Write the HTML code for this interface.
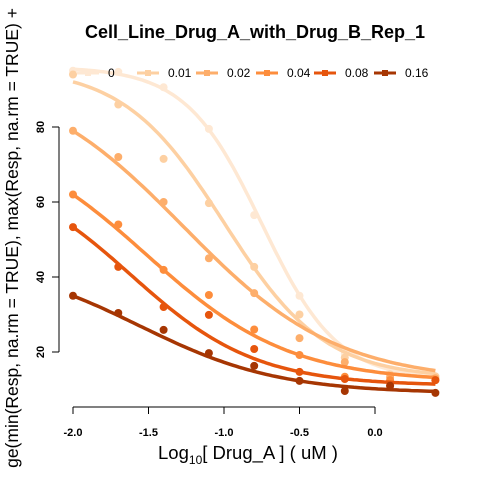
<!DOCTYPE html>
<html><head><meta charset="utf-8"><style>
body{margin:0;background:#fff}
svg{display:block;font-family:"Liberation Sans",sans-serif}
</style></head><body>
<svg id="c" width="480" height="480" viewBox="0 0 480 480">
<text x="255" y="38" text-anchor="middle" font-weight="bold" font-size="18">Cell_Line_Drug_A_with_Drug_B_Rep_1</text>
<text transform="translate(18,238) rotate(-90)" text-anchor="middle" font-size="17.5">ge(min(Resp, na.rm = TRUE), max(Resp, na.rm = TRUE) +</text>
<text x="248" y="459" text-anchor="middle" font-size="18.5">Log<tspan font-size="12" dy="5">10</tspan><tspan dy="-5">[ Drug_A ] ( uM )</tspan></text>
<g id="axes"></g><g id="series"></g><g id="legend"></g>
</svg>
<script>
const doses=["0","0.01","0.02","0.04","0.08","0.16"];
const colors=["#FEE8D3","#FDD0A2","#FDAE6B","#FD8D3C","#E6550D","#A63603"];
const xVals=[-2,-1.7,-1.4,-1.1,-0.8,-0.5,-0.2,0.1,0.4];
const resp0=[95,94.7,90.6,79.5,56.5,35,19.5,14.5,13.5];
const resp1=[94,86,71.5,59.7,42.7,30,18.5,14,13.5];
const resp2=[79,72,60,45,35.7,23.7,17.3,13.3,13];
const resp3=[62,54,41.9,35.2,26,19.2,13.4,12.5,12.5];
const resp4=[53.3,42.7,32,29.9,20.8,14.7,12.8,11,12.5];
const resp5=[35,30.4,25.9,19.7,16.3,12.3,9.6,11,9.1];
const tops=[96,96,95,80,70,45];
const bottoms=[12.5,13,12,12,11,9];
const ec50s=[-0.75,-1.0,-1.27,-1.515,-1.615,-1.56];
const hills=[1.72,1.3,0.85,0.913,1.05,0.94];
const xTicks=[-2,-1.5,-1,-0.5,0];
const xTickLabels=["-2.0","-1.5","-1.0","-0.5","0.0"];
const yTicks=[20,40,60,80];
const resp=[resp0,resp1,resp2,resp3,resp4,resp5];
const X=v=>73+(v+2)*151;
const Y=v=>427-3.75*v;
const NS="http://www.w3.org/2000/svg";
function mk(t,a,p){const e=document.createElementNS(NS,t);for(const k in a)e.setAttribute(k,a[k]);p.appendChild(e);return e;}
const ax=document.getElementById('axes');
let e=mk('line',{x1:X(xTicks[0]),x2:X(xTicks[xTicks.length-1]),y1:407,y2:407,stroke:'#000'},ax);


xTicks.forEach((t,i)=>{
 let l=mk('line',{x1:X(t),x2:X(t),y1:407,y2:414,stroke:'#000'},ax);
 
 
 let tx=mk('text',{x:X(t),y:436,'text-anchor':'middle','font-size':11,'font-weight':'bold'},ax);tx.textContent=xTickLabels[i];
 
 
});
e=mk('line',{x1:59,x2:59,y1:Y(yTicks[yTicks.length-1]),y2:Y(yTicks[0]),stroke:'#000'},ax);


yTicks.forEach(t=>{
 let l=mk('line',{x1:52,x2:59,y1:Y(t),y2:Y(t),stroke:'#000'},ax);
 
 
 let tx=mk('text',{transform:`translate(44,${Y(t)}) rotate(-90)`,'text-anchor':'middle','font-size':11,'font-weight':'bold'},ax);tx.textContent=t;
 
 
});
const sg=document.getElementById('series');
doses.forEach((d,i)=>{
 let pts=[];for(let x=-2;x<=0.4001;x+=0.02){const y=bottoms[i]+(tops[i]-bottoms[i])/(1+Math.pow(10,(x-ec50s[i])*hills[i]));pts.push(X(x).toFixed(1)+','+Y(y).toFixed(1));}
 let p=mk('polyline',{points:pts.join(' '),fill:'none',stroke:colors[i],'stroke-width':3.5},sg);
 
 
 resp[i].forEach((v,j)=>{
  let c=mk('circle',{cx:X(xVals[j]),cy:Y(v),r:4,fill:colors[i]},sg);
  
  
 });
});
const lg=document.getElementById('legend');
const lgx=[77,137,196,256,314,374];
doses.forEach((d,i)=>{
 let g=mk('g',{},lg);
 
 
 mk('line',{x1:lgx[i],x2:lgx[i]+22,y1:73,y2:73,stroke:colors[i],'stroke-width':3},g);
 mk('rect',{x:lgx[i]+8,y:70,width:6,height:6,fill:colors[i]},g);
 let t=mk('text',{x:lgx[i]+31,y:77,'font-size':12},g);t.textContent=d;
});
</script>
</body></html>
